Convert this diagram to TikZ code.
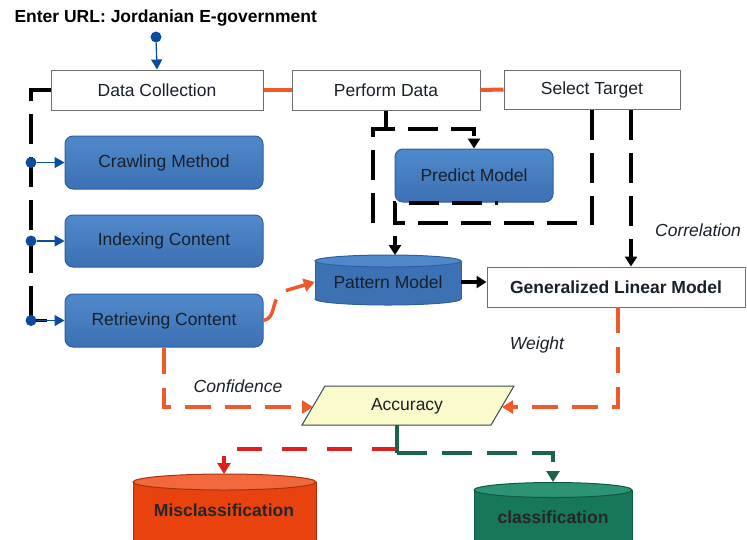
\documentclass[tikz,border=0pt]{standalone}
\usepackage{fontspec}
\setmainfont{Liberation Sans}
\usetikzlibrary{arrows.meta}

\definecolor{boxbd}{HTML}{6E6E6E}
\definecolor{blueA}{HTML}{5089CB}
\definecolor{blueB}{HTML}{3C71B4}
\definecolor{blueBd}{HTML}{2F5F9E}
\definecolor{dotblue}{HTML}{0B4C9E}
\definecolor{orng}{HTML}{EE5A2C}
\definecolor{redd}{HTML}{E01E1C}
\definecolor{grn}{HTML}{1B6447}
\definecolor{accfill}{HTML}{FAFACB}
\definecolor{accbd}{HTML}{3A4A5A}
\definecolor{misA}{HTML}{F0683C}
\definecolor{misB}{HTML}{E8430E}
\definecolor{misBd}{HTML}{A8320E}
\definecolor{clsA}{HTML}{2E9374}
\definecolor{clsB}{HTML}{17775A}
\definecolor{clsBd}{HTML}{0E5A42}
\definecolor{txt}{HTML}{1A2029}

\begin{document}
\begin{tikzpicture}[x=1pt,y=-1pt,
  font=\fontsize{17.5}{20}\selectfont,
  wbox/.style={draw=boxbd, fill=white, line width=1, inner sep=0, text=txt},
  bbox/.style={draw=blueBd, line width=1, rounded corners=8, top color=blueA,
    bottom color=blueB, inner sep=0, text=txt, minimum width=198, minimum height=53},
  bdot/.style={circle, fill=dotblue, inner sep=0, minimum size=11},
  bluearr/.style={draw=dotblue, line width=1.3, -{Triangle[width=11,length=10]}},
  blk/.style={draw=black, line width=4},
  blkdash/.style={blk, dash pattern=on 30 off 13},
  blktip/.style={-{Triangle[width=12,length=10]}},
  orgline/.style={draw=orng, line width=4},
  orgdash/.style={draw=orng, line width=3.5, dash pattern=on 26 off 14,
    -{Triangle[width=13,length=11]}},
  reddash/.style={draw=redd, line width=4, dash pattern=on 25 off 20,
    -{Triangle[width=13,length=11]}},
  grndash/.style={draw=grn, line width=4, dash pattern=on 30 off 15,
    -{Triangle[width=13,length=11]}},
  lbl/.style={font=\fontsize{17.5}{20}\selectfont\itshape, text=txt},
  bold/.style={font=\fontsize{17.5}{20}\selectfont\bfseries}
]
\useasboundingbox (0,0) rectangle (747,539);

% ---------- heading and the top row ----------
\node[anchor=west, bold] (title) at (11,18) {Enter URL: Jordanian E-government};
\node[bdot] (d0) at (156,37) {};

\node[wbox, minimum width=212, minimum height=40] (dc)   at (157,90)   {Data Collection};
\node[wbox, minimum width=188, minimum height=40] (perf) at (386,90)   {Perform Data};
\node[wbox, minimum width=176, minimum height=39] (sel)  at (592,89.5) {Select Target};

\draw[bluearr] (d0) -- (dc.north);
\draw[orgline] (dc.east) -- (perf.west);
\draw[orgline] (perf.east) -- (sel.west);

% ---------- crawling steps ----------
\node[bbox] (crawl) at (164,162.5) {Crawling Method};
\node[bbox, minimum height=52] (index) at (164,241) {Indexing Content};
\node[bbox] (retr)  at (164,320.5) {Retrieving Content};

\coordinate (d1) at (31,162.5);
\coordinate (d3) at (31,320.5);
\draw[blkdash] (dc.west) -- (dc.west -| d1) -- (d3);
\draw[blk, line width=3.5] (d3) -- ++(16,0);
\node[bdot] (b1) at (31,162.5) {};
\node[bdot] (b2) at (31,241) {};
\node[bdot] (b3) at (d3) {};
\draw[bluearr] (b1) -- (crawl.west);
\draw[bluearr] (b2) -- (index.west);
\draw[bluearr] (b3) -- (retr.west);

% ---------- predict / pattern ----------
\node[bbox, minimum width=158] (pred) at (474,175.5) {Predict Model};

% pattern model drum
\fill[blueB] (388,299) ellipse [x radius=73, y radius=6];
\draw[blueBd, line width=1] (388,299) ellipse [x radius=73, y radius=6];
\fill[blueB] (315,261) rectangle (461,299);
\draw[blueBd, line width=1] (315,261) -- (315,299) (461,261) -- (461,299);
\filldraw[fill=blueA, draw=blueBd, line width=1] (388,261) ellipse [x radius=73, y radius=6];
\node[minimum width=146, minimum height=44, inner sep=0, text=txt] (pat) at (388,282) {Pattern Model};
\coordinate (pattop) at (395,255);

\node[wbox, bold, minimum width=258, minimum height=40] (glm) at (616,287) {Generalized Linear Model};

% dashed routing around the predict model
\coordinate (pjoin) at (386,129);
\coordinate (ptl) at (373,129);
\coordinate (pbl) at (373,223);
\coordinate (lbr) at (592,223);
\coordinate (lbl) at (395,223);
\coordinate (lul) at (395,203);
\coordinate (lur) at (498,203);
\coordinate (astart) at (395,236);
\draw[blk, line width=3.5] (perf.south) -- (pjoin);
\draw[blkdash, blktip] (pbl) -- (ptl) -- (ptl -| pred.north) -- (pred.north);
\draw[blkdash] (sel.south) -- (lbr) -- (lbl) -- (lul) -- (lur);
\draw[blk, line width=3.5, blktip] (astart) -- (pattop);

% correlation link
\coordinate (corr) at (631,110);
\draw[blkdash, blktip] (corr) -- (corr |- glm.north);
\node[lbl] (corrl) at (698,230) {Correlation};

\draw[blk, line width=3.5, blktip] (pat.east) -- (pat.east -| glm.west);

% ---------- accuracy ----------
\filldraw[fill=accfill, draw=accbd, line width=1]
  (325,386) -- (514,386) -- (491,425) -- (302,425) -- cycle;
\node[text=txt] (acc) at (407,406) {Accuracy};
\coordinate (accl) at (313,407);
\coordinate (accr) at (502,407);
\coordinate (accb) at (397,425);
\coordinate (wtop) at (618,307);

\draw[orgdash] (retr.east) .. controls (276,318) and (271,302) .. (281,292) -- (pat.west);
\draw[orgdash] (retr.south) -- (retr.south |- accl) -- (accl);
\node[lbl] (confl) at (238,386) {Confidence};
\draw[orgdash] (wtop) -- (wtop |- accr) -- (accr);
\node[lbl] (wl) at (537,345) {Weight};

% ---------- result drums ----------
\fill[misB] (133,482) rectangle (316,545);
\draw[misBd, line width=1] (133,482) -- (133,545) (316,482) -- (316,545);
\filldraw[fill=misA, draw=misBd, line width=1] (224.5,482) ellipse [x radius=91.5, y radius=8];
\node[bold, text=black!85] (mis) at (224,510) {Misclassification};
\coordinate (mistop) at (224,474);

\fill[clsB] (474,490) rectangle (632,545);
\draw[clsBd, line width=1] (474,490) -- (474,545) (632,490) -- (632,545);
\filldraw[fill=clsA, draw=clsBd, line width=1] (553,490) ellipse [x radius=79, y radius=7.5];
\node[bold, text=black!85] (cls) at (553,517) {classification};
\coordinate (clstop) at (553,482);

\coordinate (rsplit) at (397,449);
\coordinate (gsplit) at (397,453);
\draw[reddash] (rsplit) -- (rsplit -| mistop) -- (mistop);
\draw[draw=grn, line width=4] (accb) -- (gsplit);
\draw[grndash] (gsplit) -- (gsplit -| clstop) -- (clstop);
\end{tikzpicture}
\end{document}
